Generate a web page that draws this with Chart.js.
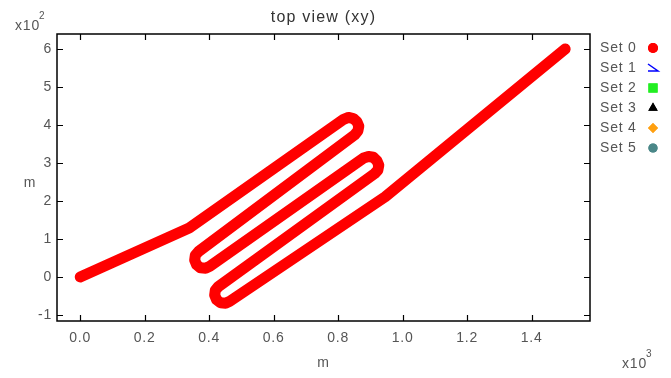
<!DOCTYPE html>
<html>
<head>
<meta charset="utf-8">
<script src="https://cdn.jsdelivr.net/npm/chart.js@4"></script>
<style>
  html, body { margin: 0; padding: 0; background: #fff; }
  #wrap { width: 671px; height: 378px; }
</style>
</head>
<body>
<div id="wrap"><canvas id="topview"></canvas></div>
<script>
// trajectory, x in 10^3 m, y in 10^2 m
const pathX = [0.000, 0.338,
               0.817, 0.832, 0.847, 0.858, 0.864, 0.861, 0.851,
               0.367, 0.357, 0.355, 0.361, 0.373, 0.389, 0.402,
               0.879, 0.894, 0.909, 0.920, 0.926, 0.923, 0.913,
               0.429, 0.419, 0.417, 0.423, 0.435, 0.451, 0.464,
               0.946, 1.504];
const pathY = [0.00, 1.29,
               4.15, 4.20, 4.17, 4.09, 3.97, 3.84, 3.74,
               0.67, 0.57, 0.44, 0.32, 0.24, 0.23, 0.28,
               3.13, 3.17, 3.15, 3.06, 2.94, 2.81, 2.72,
               -0.25, -0.35, -0.48, -0.60, -0.68, -0.69, -0.64,
               2.11, 6.00];

const xTicks = [0, 0.2, 0.4, 0.6, 0.8, 1.0, 1.2, 1.4];
const yTicks = [-1, 0, 1, 2, 3, 4, 5, 6];

const setNames = ['Set 0', 'Set 1', 'Set 2', 'Set 3', 'Set 4', 'Set 5'];
const setColors = ['#ff0000', '#0000ff', '#22ee22', '#000000', '#ffa010', '#4a8788'];
const setStyles = ['circle', 'openTri', 'rect', 'triangle', 'rectRot', 'circle'];
const markerSize = [5, 0, 6.5, 5.5, 5, 4.6];

const FONT = '"Liberation Sans", Arial, sans-serif';

const points = pathX.map((x, i) => ({ x: x, y: pathY[i] }));

const datasets = setNames.map((name, i) => ({
  label: name,
  data: i === 0 ? points : [],
  showLine: i === 0,
  borderColor: setColors[i],
  backgroundColor: setColors[i],
  borderWidth: 11,
  borderCapStyle: 'round',
  borderJoinStyle: 'round',
  tension: 0,
  pointRadius: 0,
  pointStyle: setStyles[i]
}));

function supText(ctx, base, sup, x, y) {
  ctx.font = '14px ' + FONT;
  ctx.textAlign = 'left';
  ctx.fillText(base, x, y);
  const w = ctx.measureText(base).width;
  ctx.font = '10px ' + FONT;
  ctx.fillText(sup, x + w - 1, y - 10);
}

const decoPlugin = {
  id: 'deco',
  beforeDraw(chart) {
    chart.ctx.letterSpacing = '0.8px';
  },
  afterDatasetsDraw(chart) {
    const ctx = chart.ctx;
    const a = chart.chartArea;
    const sx = chart.scales.x, sy = chart.scales.y;
    ctx.save();
    // frame
    ctx.strokeStyle = '#000';
    ctx.lineWidth = 1.5;
    ctx.strokeRect(a.left, a.top, a.right - a.left, a.bottom - a.top);
    // inward ticks on all four sides
    ctx.lineWidth = 1.2;
    ctx.beginPath();
    sx.ticks.forEach(t => {
      const p = Math.round(sx.getPixelForValue(t.value)) + 0.5;
      ctx.moveTo(p, a.bottom); ctx.lineTo(p, a.bottom - 6);
      ctx.moveTo(p, a.top); ctx.lineTo(p, a.top + 6);
    });
    sy.ticks.forEach(t => {
      const p = Math.round(sy.getPixelForValue(t.value)) + 0.5;
      ctx.moveTo(a.left, p); ctx.lineTo(a.left + 6, p);
      ctx.moveTo(a.right, p); ctx.lineTo(a.right - 6, p);
    });
    ctx.stroke();

    // title and axis labels
    ctx.textBaseline = 'middle';
    ctx.textAlign = 'center';
    ctx.letterSpacing = '1.2px';
    ctx.fillStyle = '#333';
    ctx.font = '16px ' + FONT;
    ctx.fillText('top view (xy)', (a.left + a.right) / 2, 18);
    ctx.letterSpacing = '0.8px';
    ctx.fillStyle = '#555';
    ctx.font = '14px ' + FONT;
    ctx.fillText('m', (a.left + a.right) / 2, 363);
    ctx.fillText('m', 30, 183);

    // exponents
    supText(ctx, 'x10', '2', 15, 26);
    supText(ctx, 'x10', '3', 622, 364);

    // legend
    chart.data.datasets.forEach((ds, i) => {
      const y = 48 + i * 20;
      ctx.font = '14px ' + FONT;
      ctx.fillStyle = '#555';
      ctx.textAlign = 'left';
      ctx.fillText(ds.label, 600, y);
      const mx = 653;
      ctx.fillStyle = ds.backgroundColor;
      ctx.strokeStyle = ds.borderColor;
      if (ds.pointStyle === 'openTri') {
        ctx.lineWidth = 1.5;
        ctx.beginPath();
        ctx.moveTo(648, y - 4);
        ctx.lineTo(658, y + 3);
        ctx.lineTo(648, y + 3);
        ctx.stroke();
      } else {
        Chart.helpers.drawPoint(ctx, {
          pointStyle: ds.pointStyle, radius: markerSize[i], rotation: 0, borderWidth: 0
        }, mx, y);
        ctx.fill();
      }
    });
    ctx.restore();
  }
};

const config = {
  type: 'scatter',
  data: { datasets: datasets },
  options: {
    responsive: true,
    maintainAspectRatio: false,
    animation: false,
    layout: { padding: { top: 34, right: 81, left: 0, bottom: 0 } },
    plugins: {
      legend: { display: false },
      title: { display: false },
      tooltip: { enabled: false }
    },
    scales: {
      x: {
        type: 'linear',
        min: -0.072,
        max: 1.581,
        afterBuildTicks: s => { s.ticks = xTicks.map(v => ({ value: v })); },
        afterFit: s => { s.height = 57; },
        grid: { display: false, drawTicks: false },
        border: { display: false },
        ticks: {
          padding: 9,
          color: '#555',
          font: { family: FONT, size: 14 },
          callback: v => v.toFixed(1)
        }
      },
      y: {
        type: 'linear',
        min: -1.16,
        max: 6.395,
        afterBuildTicks: s => { s.ticks = yTicks.map(v => ({ value: v })); },
        afterFit: s => { s.width = 57; },
        grid: { display: false, drawTicks: false },
        border: { display: false },
        ticks: {
          padding: 5,
          color: '#555',
          font: { family: FONT, size: 14 },
          callback: v => String(v)
        }
      }
    }
  },
  plugins: [decoPlugin]
};

const topview = new Chart(document.getElementById('topview'), config);
</script>
</body>
</html>
